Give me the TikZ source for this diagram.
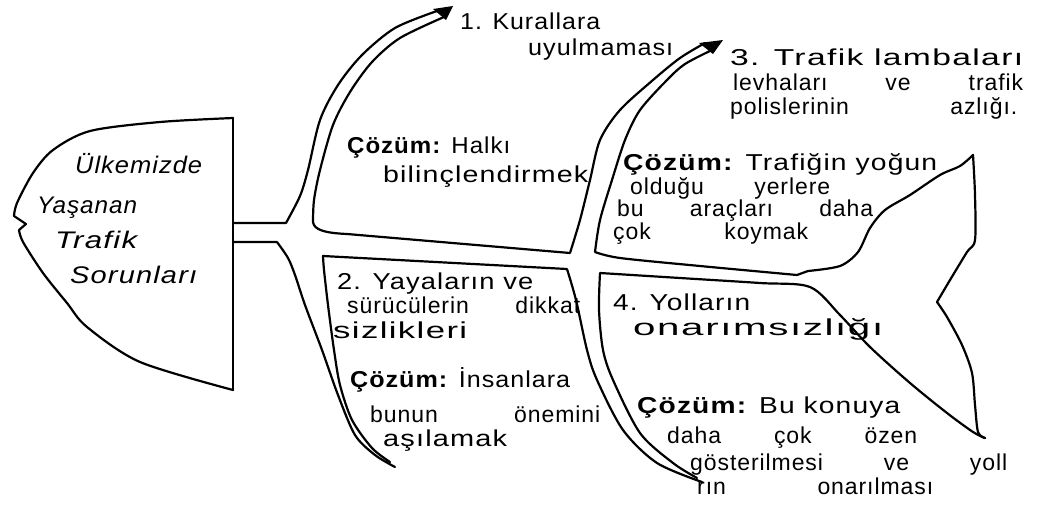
\documentclass[tikz,border=0pt]{standalone}
\usepackage{fontspec}
\setmainfont{Liberation Sans}[LetterSpace=4]
\usepackage{graphicx}
\tikzset{
  bone/.style={line width=2.2pt, line join=round, line cap=round},
  tip/.style={fill=black, line width=1pt, line join=round},
  tx/.style={anchor=base west, inner sep=0pt, font=\fontsize{23}{27}\selectfont},
  hd/.style={tx, font=\fontsize{24}{28}\selectfont\itshape}
}
\newcommand\tw[5][tx]{\node[#1] (#2) at (#3) {\resizebox{#4}{\height}{#5}};}
\newcommand\ts[5][tx]{\node[#1] (#2) at (#3) {\makebox[#4][s]{#5}};}
\begin{document}
\begin{tikzpicture}[x=1pt,y=-1pt]
\useasboundingbox (0,0) rectangle (1043,506);
% head
\draw[bone] plot[smooth] coordinates {(233,118) (160,122) (90,131) (53,150) (33,173) (17,203) (14,216)} -- (26,224) -- (19,230)
  plot[smooth] coordinates {(19,230) (23,242) (43,273) (67,303) (87,327) (140,362) (233,390)};
\draw[bone] (233,118) -- (233,390);
% spine top-left + rib 1 left
\draw[bone] (233,223) -- (286,223) plot[smooth] coordinates {(286,223) (300,196) (308,170) (320,120) (338,85) (362,55) (395,28) (437,11)};
% rib 1 right + spine top + rib 3 left
\draw[bone] plot[smooth] coordinates {(444,17) (400,38) (372,62) (350,92) (333,125) (320,170) (314,200) (313,222)}
  .. controls (314,230) and (325,233) .. (347,234) -- (570,253)
  plot[smooth] coordinates {(570,253) (580,220) (590,180) (600,140) (620,110) (653,80) (680,58) (705,43)};
\fill[tip] (433,9) -- (453,6) -- (446,20) -- cycle;
\fill[tip] (699,43) -- (723,40) -- (713,54) -- cycle;
% rib 3 right + upper body + upper tail
\draw[bone] plot[smooth] coordinates {(712,50) (685,64) (667,80) (640,110) (625,140) (612,180) (600,220) (595,252)}
  plot[smooth] coordinates {(595,252) (620,258) (700,266) (797,275)} -- (808,271)
  plot[smooth] coordinates {(808,271) (840,266) (858,252) (870,228) (885,210) (910,195) (940,175) (960,166) (973,155)}
  plot[smooth] coordinates {(973,155) (975,195) (975,240) (967,252) (950,280) (937,302)}
  plot[smooth] coordinates {(937,302) (947,317) (962,345) (972,373) (975,405) (978,432) (985,438)};
% lower tail + lower body + rib 4 right
\draw[bone] plot[smooth] coordinates {(985,438) (973,432) (947,413) (910,383) (870,347) (840,315) (810,287) (760,283) (680,278) (600,273)}
  plot[smooth] coordinates {(600,273) (599,310) (603,350) (613,380) (640,433) (673,463) (697,478)};
% spine bottom-left + rib 2 left
\draw[bone] (233,242) -- (277,242) plot[smooth] coordinates {(277,242) (288,258) (295,275) (305,305) (322,350) (338,395) (355,435) (375,455) (395,467)};
% rib 2 right + spine bottom + rib 4 left
\draw[bone] plot[smooth] coordinates {(390,462) (372,448) (352,420) (340,385) (334,350) (328,305) (324,270) (323,256)}
  -- (567,269)
  plot[smooth] coordinates {(567,269) (576,300) (587,350) (597,380) (623,430) (657,463) (702,482)};
% texts
\tw{t1a}{460,29}{140pt}{1. Kurallara}
\tw{t1b}{528,55}{145pt}{uyulmaması}
\tw{t3a}{730,65}{293pt}{3. Trafik lambaları}
\ts{t3b}{733,90}{290pt}{levhaları ve trafik}
\ts{t3c}{730,114}{287pt}{polislerinin azlığı.}
\tw{s1a}{347,153}{163pt}{\textbf{Çözüm:} Halkı}
\tw{s1b}{383,182}{205pt}{bilinçlendirmek}
\tw{s3a}{623,170}{314pt}{\textbf{Çözüm:} Trafiğin yoğun}
\ts{s3b}{630,194}{200pt}{olduğu yerlere}
\ts{s3c}{617,216}{256pt}{bu araçları daha}
\ts{s3d}{613,239}{195pt}{çok koymak}
\tw[hd]{h1}{75,173}{127pt}{Ülkemizde}
\tw[hd]{h2}{37,213}{100pt}{Yaşanan}
\tw[hd]{h3}{55,248}{82pt}{Trafik}
\tw[hd]{h4}{70,283}{127pt}{Sorunları}
\tw{t2a}{337,289}{196pt}{2. Yayaların ve}
\ts{t2b}{347,313}{233pt}{sürücülerin dikkat}
\tw{t2c}{333,338}{134pt}{sizlikleri}
\tw{s2a}{350,387}{220pt}{\textbf{Çözüm:} İnsanlara}
\ts{s2b}{370,422}{230pt}{bunun önemini}
\tw{s2c}{383,446}{124pt}{aşılamak}
\tw{t4a}{613,310}{137pt}{4. Yolların}
\tw{t4b}{633,335}{250pt}{onarımsızlığı}
\tw{s4a}{637,413}{263pt}{\textbf{Çözüm:} Bu konuya}
\ts{s4b}{667,443}{250pt}{daha çok özen}
\ts{s4c}{690,470}{317pt}{gösterilmesi ve yoll}
\ts{s4d}{697,494}{236pt}{rın onarılması}
\end{tikzpicture}
\end{document}
